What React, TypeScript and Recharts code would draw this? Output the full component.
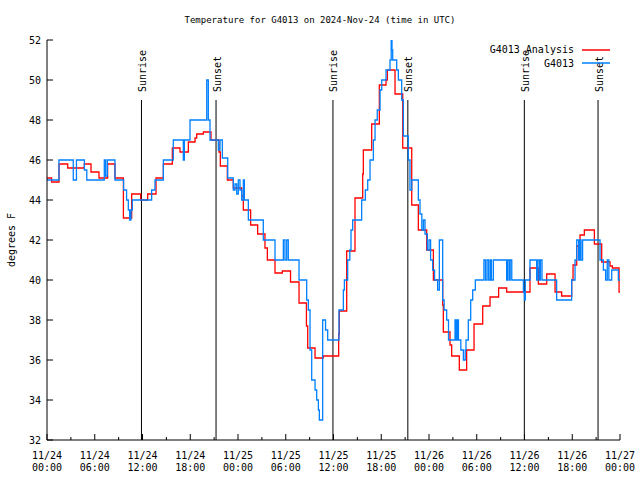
import { LineChart, Line, XAxis, YAxis, ReferenceLine } from 'recharts';

// hours since 11/24 00:00 UTC, temperature in F (step data)
const analysisSteps: [number, number][] = [
  [0, 45.1], [0.58, 44.9], [1.51, 45.8], [2.6, 45.6], [4.69, 45.8], [5.53, 45.4], [6.53, 45.1],
  [7.62, 45.8], [8.54, 45.1], [9.6, 43.1], [10.64, 44.3], [11.77, 44.0], [12.65, 44.3], [13.7, 45.1],
  [14.62, 45.8], [15.75, 46.6], [16.71, 46.4], [17.76, 46.9], [18.6, 47.1], [18.81, 47.3], [19.65, 47.4],
  [20.61, 47.0], [21.61, 46.4], [21.78, 45.7], [22.66, 45.0], [23.41, 44.6], [24.46, 44.2], [24.67, 43.5],
  [25.59, 42.75], [26.47, 42.3], [27.39, 41.6], [27.69, 41.0], [28.65, 40.35], [29.57, 40.45], [30.6, 39.9],
  [31.67, 38.85], [32.6, 37.7], [32.76, 36.6], [33.68, 36.1], [34.72, 36.2], [36.65, 37.3], [36.73, 38.45],
  [37.66, 41.45], [38.7, 44.1], [39.67, 45.3], [39.75, 46.5], [40.8, 47.8], [41.76, 49.75], [42.6, 50.0],
  [42.77, 50.5], [43.73, 49.3], [44.7, 46.6], [45.83, 43.75], [46.66, 42.5], [47.71, 41.5], [48.55, 40.0],
  [49.72, 38.75], [49.8, 37.4], [50.64, 36.75], [50.85, 36.2], [51.81, 35.5], [52.73, 36.5], [53.66, 37.8],
  [54.75, 38.7], [55.67, 39.15], [56.75, 39.6], [57.76, 39.4], [60.69, 40.6], [61.74, 39.8], [62.79, 40.3],
  [63.84, 39.4], [64.67, 39.2], [65.93, 40.0], [66.1, 40.75], [66.56, 41.7], [66.98, 42.25], [67.52, 42.5],
  [68.78, 41.8], [69.7, 40.9], [70.75, 40.7], [71.04, 40.6], [71.88, 39.4], [72, 39.4],
];

const stationSteps: [number, number][] = [
  [0, 45.0], [1.5, 46.0], [3.3, 45.0], [3.7, 46.0], [4.7, 45.5], [5.0, 45.0], [7.2, 46.0], [7.37, 45.2],
  [7.58, 46.0], [8.54, 45.0], [9.63, 44.5], [10.0, 44.0], [10.22, 43.5], [10.39, 43.0], [10.55, 43.5],
  [10.72, 44.0], [13.15, 44.5], [13.57, 45.0], [14.62, 46.0], [15.87, 47.0], [17.13, 46.0], [17.26, 47.0],
  [17.97, 48.0], [20.07, 50.0], [20.27, 48.0], [20.48, 47.0], [21.53, 46.5], [21.74, 47.0], [22.03, 46.1],
  [22.71, 45.1], [23.41, 44.5], [23.62, 44.8], [23.84, 44.3], [24.04, 45.0], [24.25, 44.5], [24.46, 44.0],
  [24.67, 45.0], [24.8, 44.0], [25.3, 43.0], [27.18, 42.0], [28.65, 41.0], [29.7, 42.0], [29.9, 41.0],
  [30.12, 42.0], [30.32, 41.0], [31.67, 40.0], [32.63, 39.0], [32.84, 38.5], [33.05, 36.5], [33.26, 35.0],
  [33.68, 34.5], [33.89, 34.0], [34.1, 33.5], [34.22, 33.0], [34.64, 38.0], [35.0, 37.5], [35.27, 37.0],
  [36.69, 38.5], [37.24, 39.5], [37.37, 40.0], [37.78, 41.0], [38.05, 41.5], [38.2, 42.5], [38.41, 43.0],
  [39.54, 44.0], [40.0, 44.5], [40.3, 45.0], [40.59, 46.0], [41.01, 47.0], [41.22, 48.0], [41.5, 48.5],
  [41.85, 49.5], [42.06, 50.0], [42.6, 50.5], [43.1, 51.0], [43.25, 52.0], [43.35, 51.5], [43.44, 51.0],
  [43.94, 50.5], [44.15, 50.0], [44.57, 49.0], [44.78, 47.2], [45.4, 46.0], [45.61, 44.5], [45.83, 45.0],
  [46.66, 44.0], [46.87, 43.3], [47.1, 42.5], [47.3, 43.0], [47.5, 42.3], [47.79, 41.5], [48.0, 42.0],
  [48.2, 41.0], [48.46, 40.5], [48.7, 40.0], [49.09, 39.5], [49.3, 42.0], [49.72, 39.0], [49.9, 38.5],
  [50.22, 38.0], [50.45, 37.0], [51.27, 38.0], [51.4, 37.0], [51.55, 38.0], [51.7, 37.0], [52.0, 36.5],
  [52.32, 36.0], [52.55, 36.5], [52.65, 37.0], [52.94, 38.0], [53.24, 39.0], [53.49, 39.5], [53.82, 40.0],
  [54.9, 41.0], [55.1, 40.0], [55.3, 41.0], [55.5, 40.0], [55.7, 41.0], [55.85, 40.0], [56.09, 41.0],
  [57.76, 40.0], [57.9, 41.0], [58.1, 40.0], [58.2, 41.0], [58.4, 40.0], [59.86, 39.4], [60.0, 39.0],
  [60.1, 40.0], [60.69, 41.0], [61.53, 40.0], [61.7, 41.0], [61.9, 40.0], [62.0, 41.0], [62.2, 40.0],
  [64.04, 39.0], [65.93, 40.0], [66.35, 41.0], [66.56, 42.0], [66.8, 41.0], [66.95, 42.0], [67.1, 41.0],
  [67.3, 42.0], [69.49, 41.0], [69.91, 40.5], [70.2, 40.0], [70.4, 41.0], [70.6, 40.0], [70.96, 40.5],
  [71.79, 40.0], [72, 40.0],
];

const sunrises = [11.87, 35.93, 59.98];
const sunsets = [21.24, 45.34, 69.24];

const xTicks = Array.from({ length: 25 }, (_, i) => i * 3);
const yTicks = [32, 34, 36, 38, 40, 42, 44, 46, 48, 50, 52];

const FONT = '"DejaVu Sans Mono", monospace';
const RED = '#ff0000';
const BLUE = '#0080ff';

const analysisData = analysisSteps.map(([t, v]) => ({ t, v }));
const stationData = stationSteps.map(([t, v]) => ({ t, v }));

const pad = (n: number) => (n < 10 ? '0' + n : '' + n);

const BottomTick = (props: any) => {
  const { x, y, payload } = props;
  const t = payload.value;
  const major = t % 6 === 0;
  return (
    <g>
      <line x1={x} y1={y} x2={x} y2={y - (major ? 6 : 3)} stroke="#000" />
      {major && (
        <text x={x} y={y + 19} textAnchor="middle" fontFamily={FONT} fontSize={10} fill="#000">
          <tspan x={x}>{`11/${24 + Math.floor(t / 24)}`}</tspan>
          <tspan x={x} dy={12}>{`${pad(t % 24)}:00`}</tspan>
        </text>
      )}
    </g>
  );
};

const TopTick = (props: any) => {
  const { x, y, payload } = props;
  const major = payload.value % 6 === 0;
  return <line x1={x} y1={y} x2={x} y2={y + (major ? 6 : 3)} stroke="#000" />;
};

const LeftTick = (props: any) => {
  const { x, y, payload } = props;
  return (
    <g>
      <line x1={x} y1={y} x2={x + 6} y2={y} stroke="#000" />
      <text x={x - 6} y={y} textAnchor="end" dominantBaseline="central" fontFamily={FONT} fontSize={10} fill="#000">
        {payload.value}
      </text>
    </g>
  );
};

const RightTick = (props: any) => {
  const { x, y } = props;
  return <line x1={x} y1={y} x2={x - 6} y2={y} stroke="#000" />;
};

const sunLabel = (text: string) => (props: any) => {
  const { viewBox } = props;
  const x = viewBox.x + 1;
  const y = viewBox.y - 8;
  return (
    <text
      x={x}
      y={y}
      transform={`rotate(-90 ${x} ${y})`}
      textAnchor="start"
      dominantBaseline="central"
      fontFamily={FONT}
      fontSize={10}
      fill="#000"
    >
      {text}
    </text>
  );
};

const YLabel = (props: any) => {
  const { viewBox } = props;
  const x = viewBox.x + 4;
  const y = viewBox.y + viewBox.height / 2;
  return (
    <text x={x} y={y} transform={`rotate(-90 ${x} ${y})`} textAnchor="middle" dominantBaseline="central"
      fontFamily={FONT} fontSize={10} fill="#000">
      degrees F
    </text>
  );
};

const legendItems = [
  { name: 'G4013 Analysis', color: RED },
  { name: 'G4013', color: BLUE },
];

export default function App() {
  return (
    <div style={{ position: 'absolute', left: 0, top: 0, width: 640, height: 480, background: '#fff' }}>
      <div style={{ position: 'absolute', left: 0, top: 14, width: 640, textAlign: 'center', fontFamily: FONT, fontSize: 9, lineHeight: '12px' }}>
        Temperature for G4013 on 2024-Nov-24 (time in UTC)
      </div>
      <LineChart width={640} height={480} margin={{ top: 40, right: 20, bottom: 0, left: 7 }}>
        <XAxis
          dataKey="t"
          type="number"
          domain={[0, 72]}
          ticks={xTicks}
          interval={0}
          height={40}
          tickSize={0}
          tickMargin={0}
          tickLine={false}
          axisLine={{ stroke: '#000' }}
          tick={<BottomTick />}
          allowDataOverflow
        />
        <XAxis
          xAxisId="top"
          orientation="top"
          type="number"
          domain={[0, 72]}
          ticks={xTicks}
          interval={0}
          height={0}
          tickSize={0}
          tickMargin={0}
          tickLine={false}
          axisLine={{ stroke: '#000' }}
          tick={<TopTick />}
          allowDataOverflow
        />
        <YAxis
          type="number"
          domain={[32, 52]}
          ticks={yTicks}
          interval={0}
          width={40}
          tickSize={0}
          tickMargin={0}
          tickLine={false}
          axisLine={{ stroke: '#000' }}
          tick={<LeftTick />}
          label={<YLabel />}
          allowDataOverflow
        />
        <YAxis
          yAxisId="right"
          orientation="right"
          type="number"
          domain={[32, 52]}
          ticks={yTicks}
          interval={0}
          width={0}
          tickSize={0}
          tickMargin={0}
          tickLine={false}
          axisLine={{ stroke: '#000' }}
          tick={<RightTick />}
          allowDataOverflow
        />
        {sunrises.map((t) => (
          <ReferenceLine
            key={'r' + t}
            segment={[{ x: t, y: 32 }, { x: t, y: 49 }]}
            stroke="#000"
            strokeWidth={1}
            label={sunLabel('Sunrise')}
          />
        ))}
        {sunsets.map((t) => (
          <ReferenceLine
            key={'s' + t}
            segment={[{ x: t, y: 32 }, { x: t, y: 49 }]}
            stroke="#000"
            strokeWidth={1}
            label={sunLabel('Sunset')}
          />
        ))}
        <Line
          data={analysisData}
          dataKey="v"
          type="stepAfter"
          stroke={RED}
          strokeWidth={1.3}
          dot={false}
          isAnimationActive={false}
          name="G4013 Analysis"
        />
        <Line
          data={stationData}
          dataKey="v"
          type="stepAfter"
          stroke={BLUE}
          strokeWidth={1.3}
          dot={false}
          isAnimationActive={false}
          name="G4013"
        />
      </LineChart>
      <div style={{ position: 'absolute', right: 30, top: 43, fontFamily: FONT, fontSize: 10 }}>
        {legendItems.map((item) => (
          <div key={item.name} style={{ display: 'flex', justifyContent: 'flex-end', alignItems: 'center', height: 13.5 }}>
            <span>{item.name}</span>
            <svg width={36} height={4} style={{ marginLeft: 0 }}>
              <line x1={8} y1={2} x2={36} y2={2} stroke={item.color} strokeWidth={1.5} />
            </svg>
          </div>
        ))}
      </div>
    </div>
  );
}
